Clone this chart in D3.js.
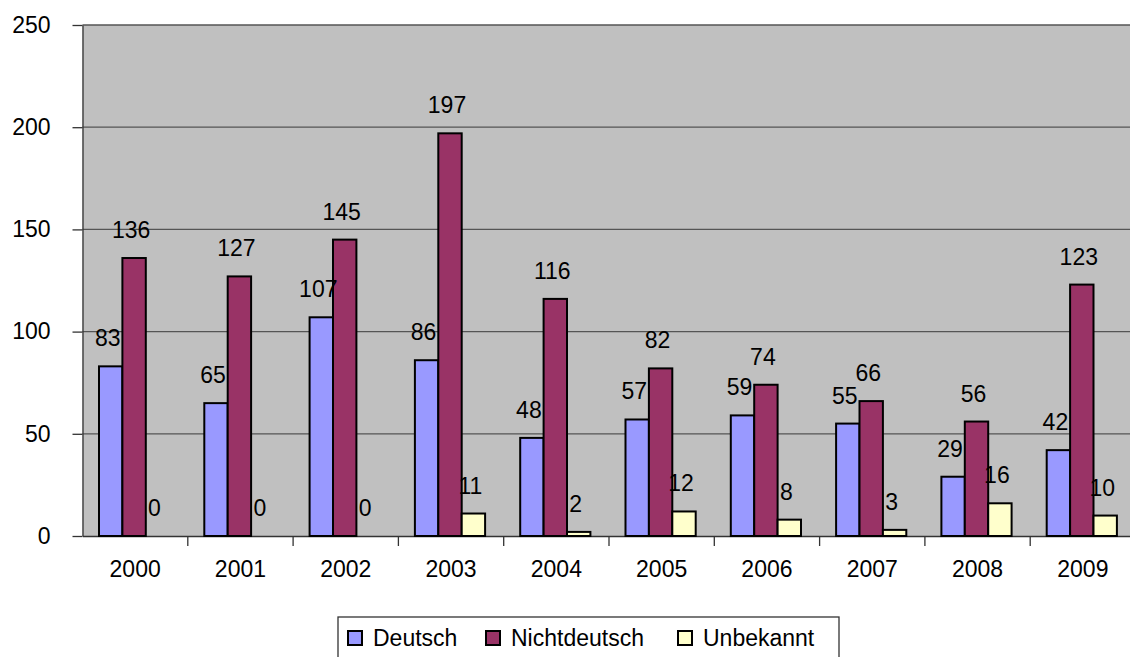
<!DOCTYPE html>
<html><head><meta charset="utf-8">
<script src="https://cdn.jsdelivr.net/npm/d3@7"></script>
<style>body{margin:0;background:#fff;}svg{display:block;font-family:"Liberation Sans",Arial,sans-serif;}</style>
</head><body><svg id="c" width="1130" height="657"></svg>
<script>
const years = ["2000","2001","2002","2003","2004","2005","2006","2007","2008","2009"];
const seriesNames = ["Deutsch","Nichtdeutsch","Unbekannt"];
const deutsch = [83,65,107,86,48,57,59,55,29,42];
const nichtdeutsch = [136,127,145,197,116,82,74,66,56,123];
const unbekannt = [0,0,0,11,2,12,8,3,16,10];
const yTicks = [0,50,100,150,200,250];
const colors = ["#9999FF","#993366","#FFFFCC"];

const series = [deutsch, nichtdeutsch, unbekannt];
const svg = d3.select("#c");
const FS = 23;
const L = 82.5, R = 1135.5, T = 25, B = 536;
const x = d3.scaleBand().domain(years).range([L, R]);
const y = d3.scaleLinear().domain([0,250]).range([B, T]);
const bw = x.bandwidth()/4.5;
const x1 = d3.scaleBand().domain(seriesNames).range([16.5, 16.5+3*bw]);

svg.append("rect").attr("x",L).attr("y",T).attr("width",R-L).attr("height",B-T).attr("fill","#C0C0C0");

// gridlines
svg.append("g").selectAll("line").data(yTicks.filter(d=>d>0)).join("line")
  .attr("x1",L).attr("x2",R).attr("y1",d=>y(d)).attr("y2",d=>y(d))
  .attr("stroke","#555").attr("stroke-width",1.3);

// y axis
const ya = svg.append("g").attr("transform",`translate(${L},0)`)
  .call(d3.axisLeft(y).tickValues(yTicks).tickSize(10).tickPadding(22).tickSizeOuter(0));
ya.select(".domain").attr("stroke","#333").attr("stroke-width",1.3);
ya.selectAll(".tick line").attr("stroke","#333").attr("stroke-width",1.3);
ya.selectAll("text").attr("font-size",FS).attr("fill","#000").attr("font-family","Liberation Sans, Arial, sans-serif");

// x axis
const xa = svg.append("g").attr("transform",`translate(0,${B})`)
  .call(d3.axisBottom(x).tickSize(0).tickPadding(25).tickSizeOuter(0));
xa.select(".domain").attr("stroke","#333").attr("stroke-width",1.3);
xa.selectAll("text").attr("font-size",FS).attr("fill","#000").attr("font-family","Liberation Sans, Arial, sans-serif");
// x tick marks at band boundaries
svg.append("g").selectAll("line").data(years.slice(1)).join("line")
  .attr("x1",d=>x(d)).attr("x2",d=>x(d)).attr("y1",B).attr("y2",B+10)
  .attr("stroke","#333").attr("stroke-width",1.3);

// bars
const g = svg.append("g");
years.forEach((yr,i)=>{
  seriesNames.forEach((s,j)=>{
    const v = series[j][i];
    const bx = x(yr)+x1(s);
    g.append("rect").attr("x",bx).attr("y",y(v)).attr("width",x1.bandwidth()).attr("height",B-y(v))
      .attr("fill",colors[j]).attr("stroke","#000").attr("stroke-width",2);
  });
});
years.forEach((yr,i)=>{
  seriesNames.forEach((s,j)=>{
    const v = series[j][i];
    const bx = x(yr)+x1(s);
    g.append("text").attr("x",bx+x1.bandwidth()/2 - 3).attr("y",y(v)-28).attr("text-anchor","middle")
      .attr("dominant-baseline","central").attr("font-size",FS).attr("fill","#000").text(v);
  });
});

// legend
const lg = svg.append("g");
lg.append("rect").attr("x",338).attr("y",617).attr("width",501).attr("height",60).attr("fill","#fff").attr("stroke","#333").attr("stroke-width",1.3);
const lx = [348,486,678];
seriesNames.forEach((s,j)=>{
  lg.append("rect").attr("x",lx[j]).attr("y",631).attr("width",14).attr("height",14).attr("fill",colors[j]).attr("stroke","#000").attr("stroke-width",2);
  lg.append("text").attr("x",lx[j]+25).attr("y",638).attr("dominant-baseline","central").attr("font-size",FS).attr("fill","#000").text(s);
});
</script></body></html>
